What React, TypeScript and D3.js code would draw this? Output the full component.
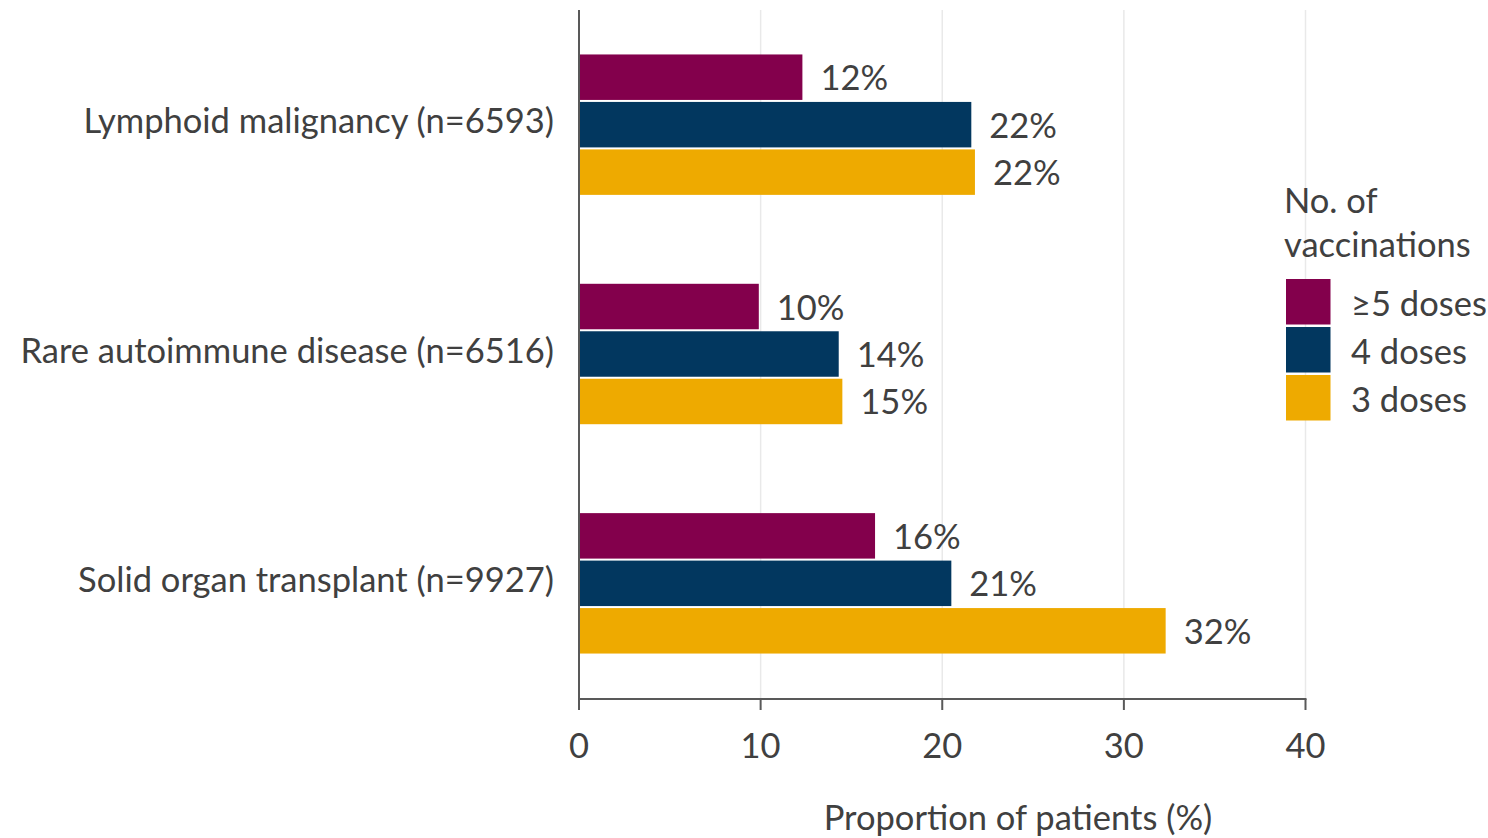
import React, { useEffect } from "react";
import * as d3 from "d3";

// Patient groups (top to bottom)
const categories = [
  "Lymphoid malignancy (n=6593)",
  "Rare autoimmune disease (n=6516)",
  "Solid organ transplant (n=9927)",
];

// Series, in drawing order within each group
const seriesNames = ["≥5 doses", "4 doses", "3 doses"];
const seriesColors = ["#83004c", "#02375f", "#eeaa00"];

// Proportion of patients (%) per group for each series
const dose5Plus = [12.3, 9.9, 16.3];
const dose4 = [21.6, 14.3, 20.5];
const dose3 = [21.8, 14.5, 32.3];

const xTicks = [0, 10, 20, 30, 40];

const legendTitle = ["No. of", "vaccinations"];
const xTitle = "Proportion of patients (%)";

const W = 1488;
const H = 838;
const FONT = "Lato, 'Open Sans', sans-serif";
const TEXT = "#404040";
const FS = 34.5;

export default function App() {
  useEffect(() => {
    document.body.style.margin = "0";
  }, []);

  const seriesValues = [dose5Plus, dose4, dose3];

  const x = d3.scaleLinear().domain([0, 40]).range([579, 1305.5]);
  const y = d3
    .scaleBand<string>()
    .domain(categories)
    .range([10, 698])
    .paddingInner(0.379)
    .paddingOuter(0.1895);
  const inner = d3
    .scaleBand<string>()
    .domain(seriesNames)
    .range([0, y.bandwidth()]);

  const fmt = d3.format(".0f");
  const axisY = 699;

  return (
    <svg width={W} height={H} style={{ display: "block", background: "#fff" }} fontFamily={FONT}>
      {/* vertical gridlines */}
      {xTicks.slice(1).map((t) => (
        <line key={"g" + t} x1={x(t)} x2={x(t)} y1={10} y2={axisY} stroke="#e9e9e9" strokeWidth={1.5} />
      ))}

      {/* bars */}
      {categories.map((c, ci) => (
        <g key={c} transform={`translate(0,${y(c)})`}>
          {seriesNames.map((s, si) => {
            const v = seriesValues[si][ci];
            const by = inner(s)! + 1;
            const bh = inner.bandwidth() - 2;
            return (
              <g key={s}>
                <rect x={x(0)} y={by} width={x(v) - x(0)} height={bh} fill={seriesColors[si]} />
                <text
                  x={x(v) + 18}
                  y={by + bh / 2 + 13}
                  fontSize={FS}
                  fill={TEXT}
                >
                  {fmt(v)}%
                </text>
              </g>
            );
          })}
        </g>
      ))}

      {/* category labels */}
      {categories.map((c) => (
        <text
          key={"l" + c}
          x={554}
          y={y(c)! + y.bandwidth() / 2 + 8.5}
          textAnchor="end"
          fontSize={FS}
          fill={TEXT}
        >
          {c}
        </text>
      ))}

      {/* axes */}
      <line x1={579} x2={579} y1={10} y2={axisY} stroke="#595959" strokeWidth={2} />
      <line x1={578} x2={x(40) + 1} y1={axisY} y2={axisY} stroke="#595959" strokeWidth={2} />
      {xTicks.map((t) => (
        <g key={"t" + t}>
          <line x1={x(t)} x2={x(t)} y1={axisY} y2={axisY + 11} stroke="#595959" strokeWidth={2} />
          <text x={x(t)} y={758} textAnchor="middle" fontSize={FS} fill={TEXT}>
            {t}
          </text>
        </g>
      ))}
      <text x={1018} y={830} textAnchor="middle" fontSize={FS} fill={TEXT}>
        {xTitle}
      </text>

      {/* legend */}
      {legendTitle.map((t, i) => (
        <text key={"lt" + i} x={1284} y={213 + i * 44} fontSize={FS} fill={TEXT}>
          {t}
        </text>
      ))}
      {seriesNames.map((s, i) => (
        <g key={"lg" + s}>
          <rect x={1286} y={279 + i * 48} width={44.5} height={45.5} fill={seriesColors[i]} />
          <text x={1351} y={316 + i * 48} fontSize={FS} fill={TEXT}>
            {s}
          </text>
        </g>
      ))}
    </svg>
  );
}
